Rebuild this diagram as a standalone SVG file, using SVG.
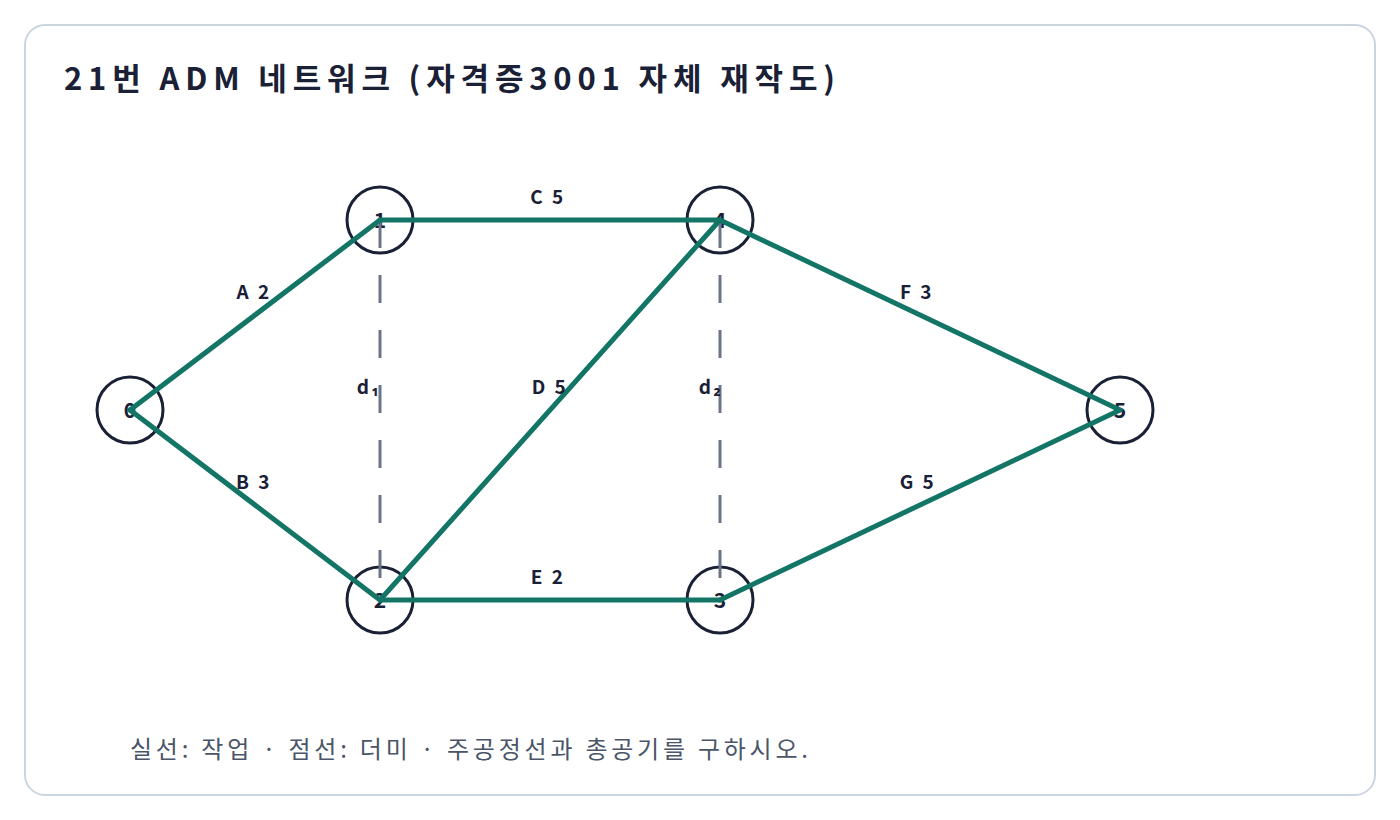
<svg xmlns="http://www.w3.org/2000/svg" width="1400" height="820" viewBox="0 0 1400 820">
<style>
text{font-family:"Noto Sans CJK KR","Noto Sans",sans-serif;fill:#1a2035}
.t{font-size:31px;font-weight:bold}
.n{font-size:21px;font-weight:bold;text-anchor:middle}
.l{font-size:19px;font-weight:bold;text-anchor:middle;letter-spacing:2.5px}
.f{font-size:24px;fill:#4a5568}
circle{fill:none;stroke:#1a2035;stroke-width:3}
.e{stroke:#127566;stroke-width:5;fill:none;stroke-linecap:round}
.d{stroke:#6b7489;stroke-width:3;stroke-dasharray:28 27}
</style>
<rect x="25" y="25" width="1350" height="770" rx="20" fill="#fff" stroke="#cbd5e1" stroke-width="2"/>
<text class="t" x="64" y="90" textLength="771" lengthAdjust="spacing">21번 ADM 네트워크 (자격증3001 자체 재작도)</text>
<g id="n0"><circle cx="130" cy="410" r="33"/><text class="n" x="130" y="418">0</text></g>
<g id="n1"><circle cx="380" cy="220" r="33"/><text class="n" x="380" y="228">1</text></g>
<g id="n2"><circle cx="380" cy="600" r="33"/><text class="n" x="380" y="608">2</text></g>
<g id="n3"><circle cx="720" cy="600" r="33"/><text class="n" x="720" y="608">3</text></g>
<g id="n4"><circle cx="720" cy="220" r="33"/><text class="n" x="720" y="228">4</text></g>
<g id="n5"><circle cx="1120" cy="410" r="33"/><text class="n" x="1120" y="418">5</text></g>
<g id="connectors">
<line class="d" x1="380" y1="220" x2="380" y2="600"/>
<line class="d" x1="720" y1="220" x2="720" y2="600"/>
<line class="e" x1="130" y1="410" x2="380" y2="220"/>
<line class="e" x1="130" y1="410" x2="380" y2="600"/>
<line class="e" x1="380" y1="220" x2="720" y2="220"/>
<line class="e" x1="380" y1="600" x2="720" y2="220"/>
<line class="e" x1="380" y1="600" x2="720" y2="600"/>
<line class="e" x1="720" y1="220" x2="1120" y2="410"/>
<line class="e" x1="720" y1="600" x2="1120" y2="410"/>
<text class="l" x="254" y="299">A 2</text>
<text class="l" x="254" y="489">B 3</text>
<text class="l" x="548" y="204">C 5</text>
<text class="l" x="550" y="394">D 5</text>
<text class="l" x="548" y="584">E 2</text>
<text class="l" x="917" y="299">F 3</text>
<text class="l" x="918" y="489">G 5</text>
<text class="l" x="369" y="394">d₁</text>
<text class="l" x="711" y="394">d₂</text>
</g>
<text class="f" x="130" y="758" textLength="678" lengthAdjust="spacing">실선: 작업 · 점선: 더미 · 주공정선과 총공기를 구하시오.</text>
</svg>
